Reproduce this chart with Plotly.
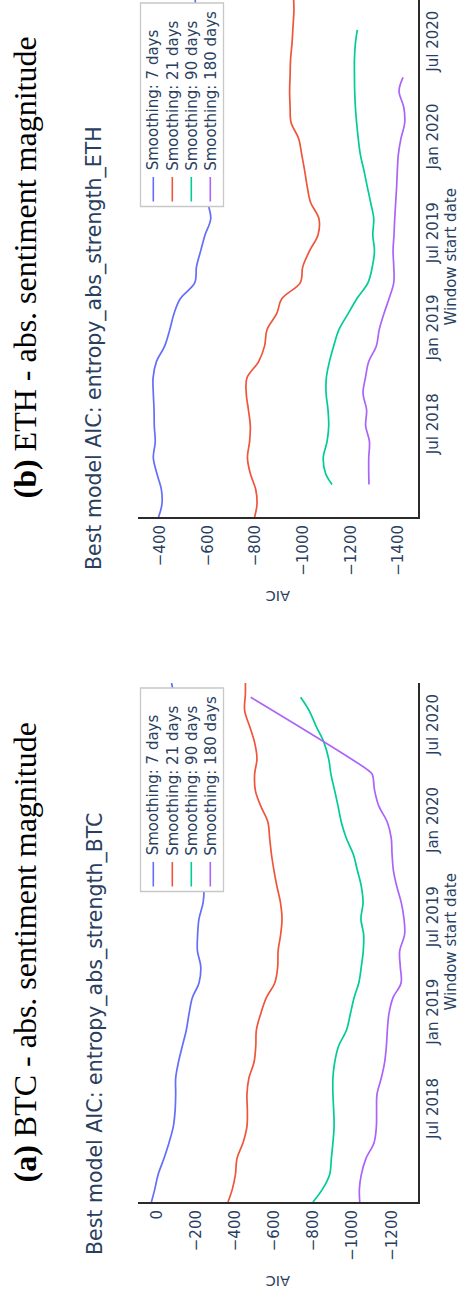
import plotly.graph_objects as go

W, H = 459, 1298

# ---------------------------------------------------------------- data
# Window start dates (first of each month, with the first and last window)
months = ['2018-01-08', '2018-02-01', '2018-03-01', '2018-04-01', '2018-05-01',
          '2018-06-01', '2018-07-01', '2018-08-01', '2018-09-01', '2018-10-01',
          '2018-11-01', '2018-12-01', '2019-01-01', '2019-02-01', '2019-03-01',
          '2019-04-01', '2019-05-01', '2019-06-01', '2019-07-01', '2019-08-01',
          '2019-09-01', '2019-10-01', '2019-11-01', '2019-12-01', '2020-01-01',
          '2020-02-01', '2020-03-01', '2020-04-01', '2020-05-01', '2020-06-01',
          '2020-07-01', '2020-08-01', '2020-09-01', '2020-09-22']

series_names = ['Smoothing: 7 days', 'Smoothing: 21 days',
                'Smoothing: 90 days', 'Smoothing: 180 days']
series_colors = ['#636efa', '#EF553B', '#00cc96', '#ab63fa']

# BTC - best model AIC
btc_7 = [27, 10, -7, -37, -63, -85, -94, -97, -97, -111, -131, -151, -165, -182,
         -216, -225, -208, -209, -216, -237, -242, -236, -226, -215, -204, -191,
         -177, -162, -147, -132, -117, -102, -87, -76]
btc_21 = [-364, -386, -402, -410, -441, -461, -463, -461, -471, -497, -506, -509,
          -531, -560, -603, -618, -620, -633, -640, -632, -614, -599, -586, -577,
          -568, -531, -504, -500, -512, -500, -475, -449, -453, -453]
btc_90_dates = months[:32] + ['2020-08-26']
btc_90 = [-798, -846, -883, -892, -900, -906, -904, -900, -900, -909, -929, -969,
          -989, -1008, -1032, -1045, -1055, -1057, -1043, -1054, -1045, -1025,
          -1004, -969, -943, -926, -909, -890, -878, -854, -815, -778, -735]
btc_180_dates = months[:28] + ['2020-04-08', '2020-08-26']
btc_180 = [-1037, -1035, -1045, -1069, -1110, -1122, -1123, -1125, -1147, -1164,
           -1173, -1178, -1186, -1207, -1248, -1244, -1241, -1266, -1263, -1249,
           -1226, -1209, -1202, -1198, -1178, -1134, -1113, -1101, -1083, -480]

# ETH - best model AIC
eth_7 = [-394, -408, -406, -387, -372, -380, -376, -375, -372, -371, -385, -420,
         -441, -459, -485, -546, -553, -571, -589, -613, -601, -596, -591, -586,
         -581, -576, -571, -566, -561, -557, -554, -551, -549, -548]
eth_21 = [-797, -807, -802, -779, -767, -776, -779, -771, -762, -765, -814, -839,
          -849, -890, -911, -989, -999, -1028, -1063, -1067, -1032, -1018, -1007,
          -995, -982, -950, -946, -944, -946, -948, -954, -958, -962, -961]
eth_90_dates = ['2018-03-11'] + months[3:31] + ['2020-07-27']
eth_90 = [-1122, -1095, -1085, -1101, -1108, -1105, -1097, -1098, -1111, -1129,
          -1151, -1190, -1226, -1273, -1291, -1300, -1293, -1297, -1284, -1270,
          -1256, -1241, -1232, -1225, -1220, -1217, -1216, -1216, -1220, -1228]
eth_180_dates = ['2018-03-11'] + months[3:28] + ['2020-04-27']
eth_180 = [-1277, -1276, -1276, -1279, -1263, -1267, -1252, -1262, -1276, -1308,
           -1320, -1340, -1361, -1381, -1381, -1378, -1382, -1385, -1389, -1393,
           -1396, -1400, -1411, -1427, -1423, -1403, -1420]

date_range = ['2018-01-08', '2020-09-22']
btc_aic_range = [95.5, -1334.5]
eth_aic_range = [-307.7, -1482.7]

panels = [
    dict(key='', tag='<b>(a)</b> BTC - abs. sentiment magnitude',
         title='Best model AIC: entropy_abs_strength_BTC', off=0,
         aic_range=btc_aic_range,
         series=[(months, btc_7), (months, btc_21),
                 (btc_90_dates, btc_90), (btc_180_dates, btc_180)]),
    dict(key='2', tag='<b>(b)</b> ETH - abs. sentiment magnitude',
         title='Best model AIC: entropy_abs_strength_ETH', off=-685,
         aic_range=eth_aic_range,
         series=[(months, eth_7), (months, eth_21),
                 (eth_90_dates, eth_90), (eth_180_dates, eth_180)]),
]


# ---------------------------------------------------------------- helpers
def px(x):
    return x / W


def py(y):
    return 1 - y / H


TEXT = '#2a3f5f'
SANS = 'DejaVu Sans'
AXLINE = '#2b2b2b'

fig = go.Figure()
shapes, annotations = [], []

for p in panels:
    k, off = p['key'], p['off']
    # the whole panel is drawn turned a quarter turn: AIC runs across,
    # the window start date runs up the page
    for (dates, vals), name, col in zip(p['series'], series_names, series_colors):
        fig.add_trace(go.Scatter(
            x=vals, y=dates, mode='lines', name=name,
            line=dict(color=col, width=1.7, shape='spline', smoothing=1.0),
            xaxis='x' + k, yaxis='y' + k, showlegend=False, hoverinfo='skip'))

    top = 683 + off
    bottom = 1202 + off
    ydom = [max(py(bottom), 0), min(py(top), 1)]

    fig.layout['xaxis' + k] = dict(
        domain=[px(138), px(418)], anchor='y' + k, range=p['aic_range'],
        dtick=200, tick0=0, tickangle=-90, showgrid=False, zeroline=False,
        showline=True, linecolor=AXLINE, linewidth=2, ticks='',
        tickfont=dict(family=SANS, size=15, color=TEXT), automargin=False)
    fig.layout['yaxis' + k] = dict(
        domain=ydom, anchor='x' + k, side='right', type='date',
        range=date_range, dtick='M6', tick0='2018-01-01', tickformat='%b %Y',
        tickangle=-90, showgrid=False, zeroline=False, showline=True,
        linecolor=AXLINE, linewidth=2, ticks='',
        tickfont=dict(family=SANS, size=15, color=TEXT), automargin=False)

    # panel heading
    annotations.append(dict(
        text=p['tag'], x=px(25), y=py(952.5 + off), xref='paper', yref='paper',
        textangle=-90, showarrow=False, xanchor='center', yanchor='middle',
        font=dict(family='Liberation Serif', size=32, color='black')))
    # chart title
    annotations.append(dict(
        text=p['title'], x=px(95), y=py(1257 + off), xref='paper', yref='paper',
        textangle=-90, showarrow=False, xanchor='center', yanchor='bottom',
        font=dict(family=SANS, size=20.5, color=TEXT)))
    # axis titles
    annotations.append(dict(
        text='AIC', x=px(278), y=py(1281 + off), xref='paper', yref='paper',
        textangle=180, showarrow=False, xanchor='center', yanchor='middle',
        font=dict(family=SANS, size=14.5, color=TEXT)))
    annotations.append(dict(
        text='Window start date', x=px(450), y=py(942.5 + off), xref='paper',
        yref='paper', textangle=-90, showarrow=False, xanchor='center',
        yanchor='middle', font=dict(family=SANS, size=15, color=TEXT)))

    # legend box
    shapes.append(dict(
        type='rect', xref='paper', yref='paper', layer='above',
        x0=px(140.5), x1=px(223.5), y0=py(891.5 + off), y1=py(688 + off),
        fillcolor='white', line=dict(color='#c8c8c8', width=1.3)))
    for i, (name, col) in enumerate(zip(series_names, series_colors)):
        cx = 153.3 + 19 * i
        shapes.append(dict(
            type='line', xref='paper', yref='paper', layer='above',
            x0=px(cx), x1=px(cx), y0=py(886.5 + off), y1=py(862 + off),
            line=dict(color=col, width=1.6)))
        annotations.append(dict(
            text=name, x=px(cx), y=py(857.5 + off), xref='paper', yref='paper',
            textangle=-90, showarrow=False, xanchor='center', yanchor='bottom',
            font=dict(family=SANS, size=15, color=TEXT)))

fig.update_layout(
    width=W, height=H, margin=dict(l=0, r=0, t=0, b=0, pad=0),
    paper_bgcolor='white', plot_bgcolor='white', showlegend=False,
    font=dict(family=SANS, color=TEXT), shapes=shapes, annotations=annotations)

fig.write_html('out.html', config={'displayModeBar': False})
